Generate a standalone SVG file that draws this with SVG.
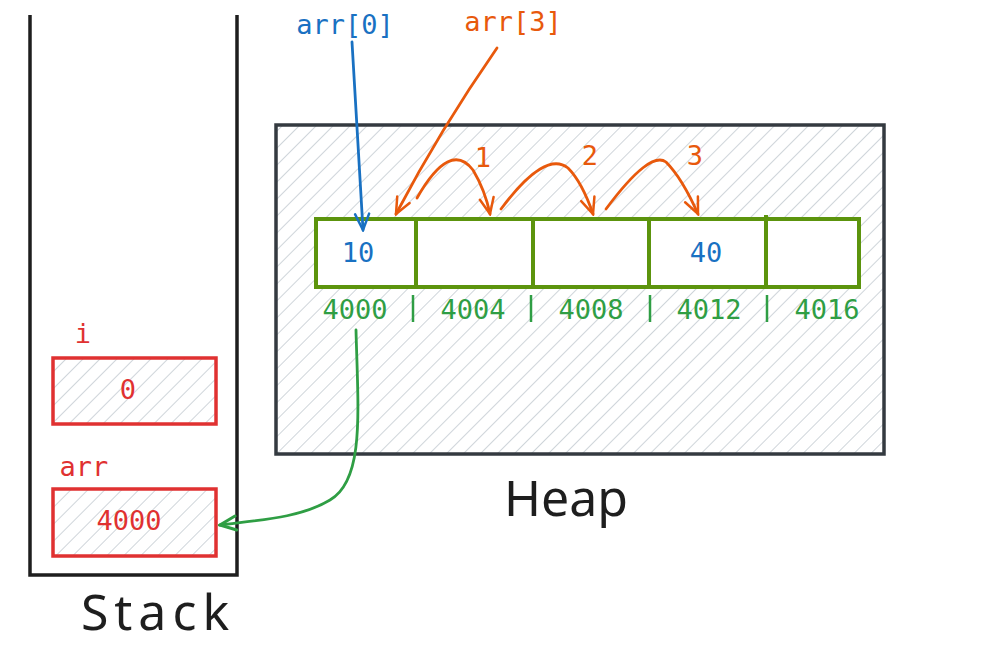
<svg xmlns="http://www.w3.org/2000/svg" width="991" height="649" viewBox="0 0 991 649">
<style>
.mono{font-family:"DejaVu Sans Mono","Liberation Mono",monospace;font-size:27px;text-anchor:middle}
.hand{font-family:"Noto Sans","Liberation Sans",sans-serif;font-size:50px;text-anchor:middle;fill:#1e1e1e}
.green{fill:#2f9e44}.blue{fill:#1971c2}.red{fill:#e03131}.orange{fill:#e8590c}
.cell{fill:#fff;stroke:#5c940d;stroke-width:4}
.redbox{fill:url(#hatch);stroke:#e03131;stroke-width:3.5}
.conn{fill:none;stroke-width:2.8;stroke-linecap:round}
</style>
<defs>
<pattern id="hatch" patternUnits="userSpaceOnUse" width="12" height="12" patternTransform="rotate(45)">
<line x1="0" y1="0" x2="0" y2="12" stroke="#c3cad1" stroke-width="1.6"/>
</pattern>
<marker id="ahB" viewBox="0 0 20 20" refX="18" refY="10" markerWidth="20" markerHeight="20" markerUnits="userSpaceOnUse" orient="auto">
<path d="M2 3 L18 10 L2 17" fill="none" stroke="#1971c2" stroke-width="2.5" stroke-linecap="round"/>
</marker>
<marker id="ahO" viewBox="0 0 20 20" refX="18" refY="10" markerWidth="20" markerHeight="20" markerUnits="userSpaceOnUse" orient="auto">
<path d="M2 3 L18 10 L2 17" fill="none" stroke="#e8590c" stroke-width="2.5" stroke-linecap="round"/>
</marker>
<marker id="ahG" viewBox="0 0 20 20" refX="18" refY="10" markerWidth="20" markerHeight="20" markerUnits="userSpaceOnUse" orient="auto">
<path d="M2 3 L18 10 L2 17" fill="none" stroke="#2f9e44" stroke-width="3" stroke-linecap="round"/>
</marker>
</defs>
<rect width="991" height="649" fill="#fff"/>

<g id="stack">
<path d="M30 15 L30 575 L237 575 L237 15" fill="none" stroke="#1e1e1e" stroke-width="3.5"/>
<text class="hand" x="158" y="630" letter-spacing="6">Stack</text>
</g>

<g id="var-i">
<text class="mono red" x="83" y="343">i</text>
<rect class="redbox" x="53" y="358" width="163" height="66"/>
<text class="mono red" x="128" y="399">0</text>
</g>

<g id="var-arr">
<text class="mono red" x="84" y="476">arr</text>
<rect class="redbox" x="53" y="489" width="163" height="67"/>
<text class="mono red" x="129" y="530">4000</text>
</g>

<g id="heap">
<rect x="276" y="125" width="608" height="329" fill="url(#hatch)" stroke="#343a40" stroke-width="3.5"/>
<text class="hand" x="566" y="516">Heap</text>
</g>

<g id="array">
<rect class="cell" x="316" y="219" width="543" height="68"/>
<line x1="416" y1="217" x2="416" y2="289" stroke="#5c940d" stroke-width="4"/>
<line x1="533" y1="217" x2="533" y2="289" stroke="#5c940d" stroke-width="4"/>
<line x1="649" y1="217" x2="649" y2="289" stroke="#5c940d" stroke-width="4"/>
<line x1="766" y1="215" x2="766" y2="289" stroke="#5c940d" stroke-width="4"/>
<text class="mono blue" x="358" y="262">10</text>
<text class="mono blue" x="706" y="262">40</text>
<text class="mono green" x="355" y="319">4000</text>
<text class="mono green" x="473" y="319">4004</text>
<text class="mono green" x="591" y="319">4008</text>
<text class="mono green" x="709" y="319">4012</text>
<text class="mono green" x="827" y="319">4016</text>
<g stroke="#2f9e44" stroke-width="2.5">
<line x1="413" y1="295" x2="413" y2="322"/>
<line x1="531" y1="295" x2="531" y2="322"/>
<line x1="650" y1="295" x2="650" y2="322"/>
<line x1="767" y1="295" x2="767" y2="322"/>
</g>
</g>

<g id="labels">
<text class="mono blue" x="345" y="34">arr[0]</text>
<text class="mono orange" x="513" y="31">arr[3]</text>
<text class="mono orange" x="483" y="167">1</text>
<text class="mono orange" x="590" y="165">2</text>
<text class="mono orange" x="695" y="165">3</text>
</g>

<g id="connectors">
<path class="conn" d="M352 42 Q358 140 363 230" stroke="#1971c2" marker-end="url(#ahB)"/>
<path class="conn" d="M497 48 Q440 130 396 214" stroke="#e8590c" marker-end="url(#ahO)"/>
<path class="conn" d="M417 198 Q450 140 473 170 Q485 190 490 214" stroke="#e8590c" marker-end="url(#ahO)"/>
<path class="conn" d="M501 209 Q545 150 568 168 Q582 182 593 214" stroke="#e8590c" marker-end="url(#ahO)"/>
<path class="conn" d="M606 209 Q650 150 666 162 Q682 178 698 214" stroke="#e8590c" marker-end="url(#ahO)"/>
<path class="conn" d="M356 330 C358 410 365 480 330 500 C300 518 260 520 220 525" stroke="#2f9e44" stroke-width="3" marker-end="url(#ahG)"/>
</g>
</svg>
